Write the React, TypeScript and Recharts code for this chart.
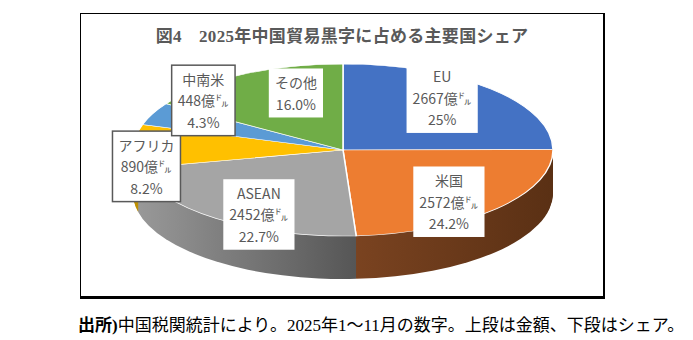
import { PieChart, Pie, Cell } from 'recharts'

const REGIONS = ['EU', '米国', 'ASEAN', 'アフリカ', '中南米', 'その他']
const AMOUNTS = [2667, 2572, 2452, 890, 448, null]
const SHARES = [25, 24.2, 22.7, 8.2, 4.3, 16.0]
const SHARE_TEXT = ['25%', '24.2%', '22.7%', '8.2%', '4.3%', '16.0%']

const TOP_COLORS = ['#4472C4', '#ED7D31', '#A5A5A5', '#FFC000', '#5B9BD5', '#70AD47']
const SIDE_STOPS = [
  ['#2F5597', '#2F5597'],
  ['#7C4421', '#5A3014'],
  ['#9A9A9A', '#565656'],
  ['#BF9000', '#BF9000'],
  ['#41719C', '#41719C'],
  ['#507E32', '#507E32'],
]

// label placement: radius fraction and clockwise turn from the slice middle
const LABEL_R = [0.77, 0.785, 0.85, 0.955, 0.88, 0.7]
const LABEL_TURN = [-7, 7, -9, -14, 16, 10]
const BORDERED = [false, false, false, true, true, false]

const RX = 210
const RY = 86
const CX = 343
const CY = 150
const DEPTH = 43
const S = RY / RX
const CHART_H = Math.ceil(340 / S)
const LINE_H = 21.5
const FONT = "'Noto Sans CJK JP', 'Noto Sans', sans-serif"

const data = REGIONS.map((name, i) => ({ name, share: SHARES[i], amount: AMOUNTS[i] }))

function labelLines(i: number) {
  const amt = AMOUNTS[i]
  return amt == null ? [REGIONS[i], SHARE_TEXT[i]] : [REGIONS[i], `${amt}億㌦`, SHARE_TEXT[i]]
}

function textWidth(t: string) {
  let w = 0
  for (const ch of t) w += ch.charCodeAt(0) > 0x2000 ? 14 : ch === '%' ? 11 : 7.8
  return w
}

function SliceLabel(props: any) {
  const { cx, cy, midAngle, outerRadius, index } = props
  const ang = ((midAngle - LABEL_TURN[index]) * Math.PI) / 180
  const r = outerRadius * LABEL_R[index]
  const x = cx + r * Math.cos(-ang)
  const y = cy + r * Math.sin(-ang)
  const lines = labelLines(index)
  const w = Math.max(...lines.map(textWidth)) + 12
  const h = lines.length * LINE_H + 6
  return (
    <g transform={`translate(${x},${y}) scale(1,${1 / S})`}>
      <rect
        x={-w / 2}
        y={-h / 2}
        width={w}
        height={h}
        fill="#fff"
        stroke={BORDERED[index] ? '#595959' : 'none'}
        strokeWidth={1.5}
      />
      {lines.map((t, j) => (
        <text
          key={j}
          x={0}
          y={-h / 2 + 3 + LINE_H * (j + 0.5)}
          textAnchor="middle"
          dominantBaseline="central"
          fontSize={14}
          fill="#595959"
          fontFamily={FONT}
        >
          {t}
        </text>
      ))}
    </g>
  )
}

export default function App() {
  const layers = Array.from({ length: DEPTH }, (_, i) => DEPTH - i)
  return (
    <div style={{ position: 'fixed', left: 0, top: 0, width: 693, height: 340, background: '#fff', overflow: 'hidden' }}>
      <div
        style={{
          position: 'absolute',
          left: 80,
          top: 13,
          width: 525,
          height: 286,
          boxSizing: 'border-box',
          borderTop: '1px solid #000',
          borderLeft: '1px solid #000',
          borderRight: '2px solid #000',
          borderBottom: '3px solid #000',
        }}
      />
      <div
        style={{
          position: 'absolute',
          left: 0,
          width: 684,
          top: 22,
          textAlign: 'center',
          fontFamily: "'Liberation Serif', 'Noto Sans CJK JP', serif",
          fontWeight: 700,
          fontSize: 17,
          letterSpacing: 0.3,
          color: '#595959',
          whiteSpace: 'nowrap',
        }}
      >
        図4　2025年中国貿易黒字に占める主要国シェア
      </div>
      <div style={{ position: 'absolute', left: 0, top: 0, width: 693, height: CHART_H, transform: `scaleY(${S})`, transformOrigin: '0 0' }}>
        <PieChart width={693} height={CHART_H} margin={{ top: 0, right: 0, bottom: 0, left: 0 }}>
          <defs>
            {SIDE_STOPS.map(([a, b], i) => (
              <linearGradient
                key={i}
                id={`side-${i}`}
                gradientUnits="userSpaceOnUse"
                x1={i === 1 ? CX : CX - RX}
                y1={0}
                x2={i === 1 ? CX + RX : CX + 12}
                y2={0}
              >
                <stop offset="0" stopColor={a} />
                <stop offset="1" stopColor={b} />
              </linearGradient>
            ))}
          </defs>
          {layers.map((k) => (
            <Pie
              key={`layer-${k}`}
              data={data}
              dataKey="share"
              cx={CX}
              cy={CY / S + k / S}
              outerRadius={RX}
              startAngle={90}
              endAngle={-270}
              stroke="none"
              isAnimationActive={false}
            >
              {data.map((_, i) => (
                <Cell key={i} fill={`url(#side-${i})`} />
              ))}
            </Pie>
          ))}
          <Pie
            data={data}
            dataKey="share"
            cx={CX}
            cy={CY / S}
            outerRadius={RX}
            startAngle={90}
            endAngle={-270}
            stroke="#fff"
            strokeWidth={1.5}
            isAnimationActive={false}
            labelLine={false}
            label={SliceLabel}
          >
            {data.map((_, i) => (
              <Cell key={i} fill={TOP_COLORS[i]} />
            ))}
          </Pie>
        </PieChart>
      </div>
      <div
        style={{
          position: 'absolute',
          left: 78,
          top: 311,
          fontFamily: "'Liberation Serif', 'Noto Sans CJK JP', serif",
          fontSize: 17,
          color: '#000',
          whiteSpace: 'nowrap',
        }}
      >
        <b>出所)</b>中国税関統計により。2025年1～11月の数字。上段は金額、下段はシェア。
      </div>
    </div>
  )
}
